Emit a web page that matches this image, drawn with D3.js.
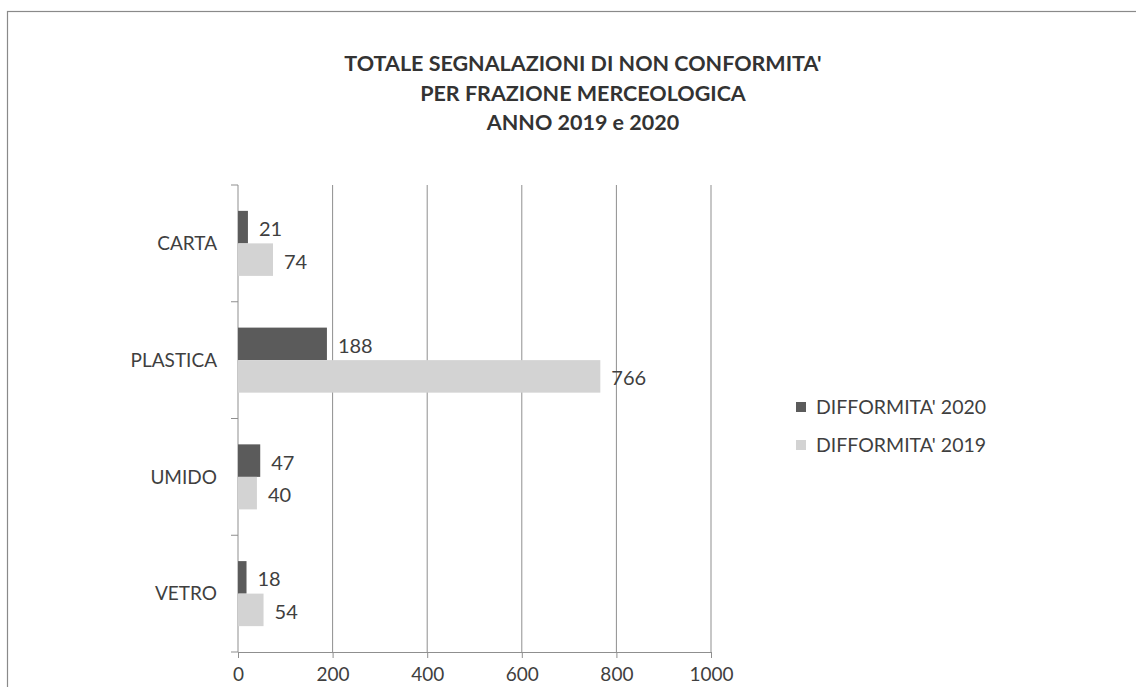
<!DOCTYPE html>
<html>
<head>
<meta charset="utf-8">
<script src="https://cdn.jsdelivr.net/npm/d3@7"></script>
<style>
  body { margin: 0; background: #fff; }
  text { font-family: Lato, "Open Sans", sans-serif; }
</style>
</head>
<body>
<script>
var width = 1136, height = 687;

// data
const categories = ["CARTA", "PLASTICA", "UMIDO", "VETRO"];
const seriesNames = ["DIFFORMITA' 2020", "DIFFORMITA' 2019"];
const values2020 = [21, 188, 47, 18];
const values2019 = [74, 766, 40, 54];
const xTicks = [0, 200, 400, 600, 800, 1000];
const titleLines = ["TOTALE SEGNALAZIONI DI NON CONFORMITA'", "PER FRAZIONE MERCEOLOGICA", "ANNO 2019 e 2020"];

const colors = ["#5b5b5b", "#d3d3d3"];
const textColor = "#3f3f3f";

var rows = categories.map((c, i) => ({cat: c, vals: [values2020[i], values2019[i]]}));

var svg = d3.select("body")
  .append("svg")
  .attr("width", width)
  .attr("height", height);

// outer frame (runs off the right and bottom)
svg.append("rect")
  .attr("x", 7.5).attr("y", 11.5)
  .attr("width", 1140).attr("height", 700)
  .attr("fill", "none")
  .attr("stroke", "#8a8a8a")
  .attr("stroke-width", 1.2);

// title
svg.append("g")
  .selectAll("text")
  .data(titleLines)
  .enter()
  .append("text")
  .attr("x", 583)
  .attr("y", (d, i) => 71 + i * 29.5)
  .attr("text-anchor", "middle")
  .attr("font-weight", "bold")
  .attr("font-size", 21.5)
  .attr("fill", "#333")
  .text(d => d);

var x = d3.scaleLinear().domain([0, 1000]).range([238, 711]);
var y = d3.scaleBand().domain(categories).range([185, 652]).paddingInner(0.443).paddingOuter(0.2215);
var ySub = d3.scaleBand().domain([0, 1]).range([0, y.bandwidth()]);

var g = svg.append("g");

// vertical gridlines
g.selectAll("line.grid")
  .data(xTicks.slice(1))
  .enter()
  .append("line")
  .attr("class", "grid")
  .attr("x1", d => x(d)).attr("x2", d => x(d))
  .attr("y1", 185).attr("y2", 652)
  .attr("stroke", "#8f8f8f")
  .attr("stroke-width", 1);

// x axis
var xAxis = g.append("g")
  .attr("transform", "translate(0,652)")
  .call(d3.axisBottom(x).tickValues(xTicks).tickSize(6).tickPadding(10).tickFormat(d3.format("d")));
xAxis.select(".domain").attr("stroke", "#8f8f8f");
xAxis.selectAll(".tick line").attr("stroke", "#8f8f8f");
xAxis.selectAll("text").attr("font-size", 19).attr("fill", textColor)
  .attr("font-family", "Lato, sans-serif");

// y axis with ticks between categories
var yAxis = g.append("g")
  .attr("transform", "translate(238,0)");
yAxis.append("line")
  .attr("x1", 0).attr("x2", 0).attr("y1", 185).attr("y2", 652)
  .attr("stroke", "#8f8f8f");
yAxis.selectAll("line.tk")
  .data(d3.range(categories.length + 1))
  .enter()
  .append("line")
  .attr("class", "tk")
  .attr("x1", -7).attr("x2", 0)
  .attr("y1", i => 185 + i * y.step())
  .attr("y2", i => 185 + i * y.step())
  .attr("stroke", "#8f8f8f");
yAxis.selectAll("text")
  .data(categories)
  .enter()
  .append("text")
  .attr("x", -21)
  .attr("y", d => y(d) + y.bandwidth() / 2)
  .attr("dy", "0.35em")
  .attr("text-anchor", "end")
  .attr("font-size", 19)
  .attr("fill", textColor)
  .text(d => d);

// bars
var groups = g.selectAll("g.cat")
  .data(rows)
  .enter()
  .append("g")
  .attr("class", "cat")
  .attr("transform", d => "translate(0," + y(d.cat) + ")");

groups.selectAll("rect")
  .data(d => d.vals)
  .enter()
  .append("rect")
  .attr("x", x(0))
  .attr("y", (d, i) => ySub(i))
  .attr("width", d => x(d) - x(0))
  .attr("height", ySub.bandwidth())
  .attr("fill", (d, i) => colors[i]);

groups.selectAll("text")
  .data(d => d.vals)
  .enter()
  .append("text")
  .attr("x", d => x(d) + 11)
  .attr("y", (d, i) => ySub(i) + ySub.bandwidth() / 2 + 2)
  .attr("dy", "0.35em")
  .attr("font-size", 20)
  .attr("fill", textColor)
  .text(d => d);

// legend
var legend = svg.append("g")
  .selectAll("g")
  .data(seriesNames)
  .enter()
  .append("g")
  .attr("transform", (d, i) => "translate(796," + (407 + i * 38) + ")");
legend.append("rect")
  .attr("x", 0).attr("y", -5)
  .attr("width", 10).attr("height", 10)
  .attr("fill", (d, i) => colors[i]);
legend.append("text")
  .attr("x", 20).attr("y", 0)
  .attr("dy", "0.35em")
  .attr("font-size", 19.5)
  .attr("fill", textColor)
  .text(d => d);
</script>
</body>
</html>
